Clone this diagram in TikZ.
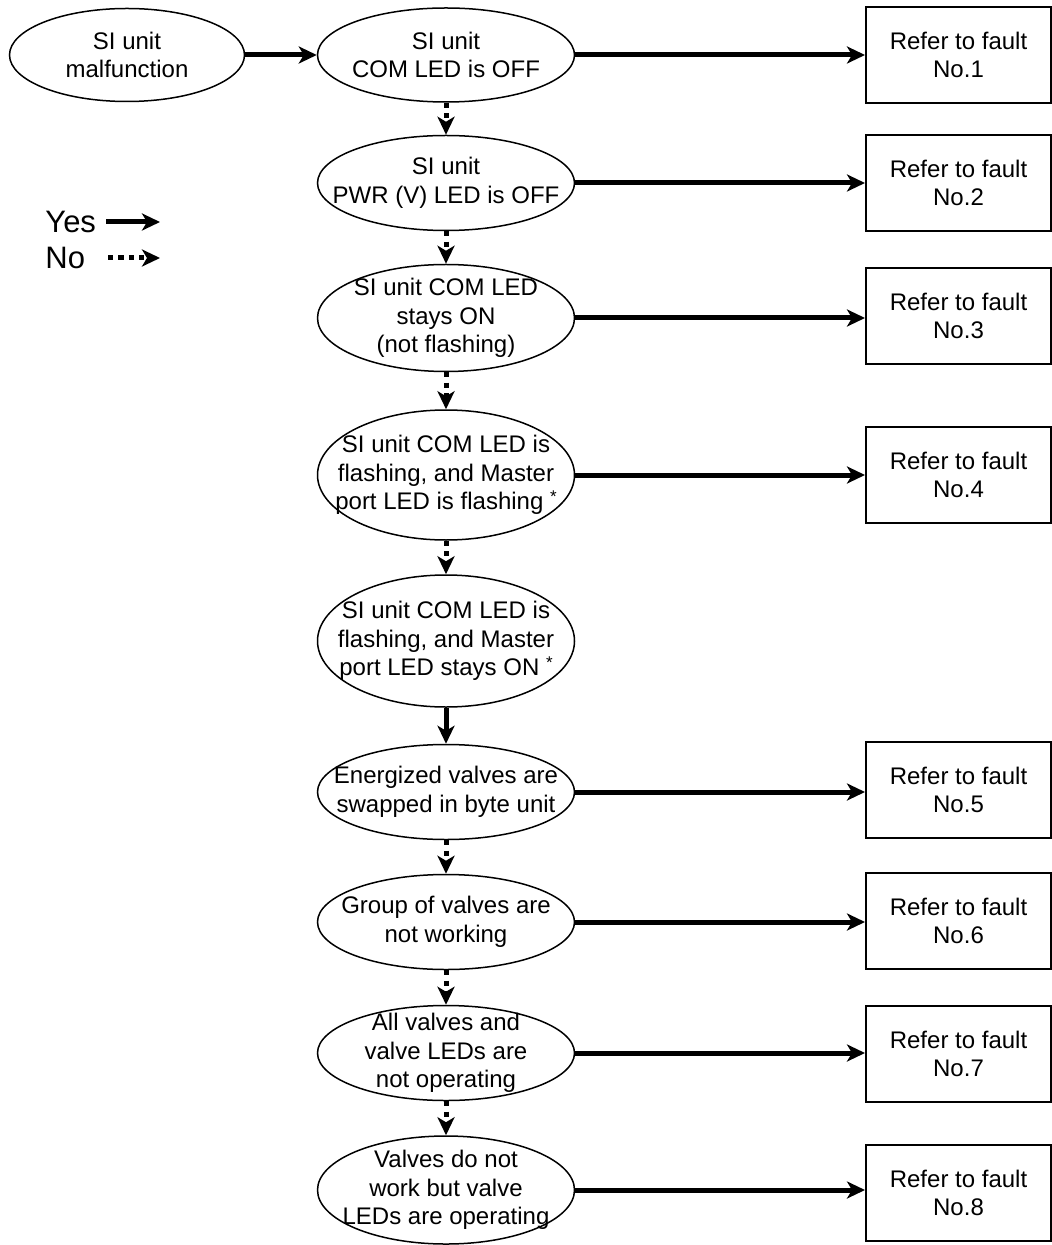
\documentclass[tikz,border=0pt]{standalone}
\usepackage{fontspec}
\setmainfont{Liberation Sans}
\usepackage{tikz}
\usetikzlibrary{shapes.geometric,arrows.meta}

\newcommand{\smallstar}{\raisebox{0.6ex}{\fontsize{8.5pt}{8.5pt}\selectfont *}}

\begin{document}
\begin{tikzpicture}[x=0.5pt,y=-0.5pt,
    check/.style={draw,line width=0.75pt,ellipse,inner sep=-40pt,align=center,
        minimum width=128.5pt,font=\fontsize{12pt}{14.3pt}\selectfont},
    faultbox/.style={draw,line width=1pt,rectangle,inner sep=0pt,align=center,
        minimum width=92.5pt,minimum height=48pt,font=\fontsize{12pt}{14.3pt}\selectfont},
    yesarrow/.style={line width=2.5pt,-{Stealth[length=9pt,width=8.5pt,inset=2.5pt]}},
    noarrow/.style={yesarrow,dash pattern=on 2.6pt off 2.6pt},
    legend/.style={font=\fontsize{15.5pt}{18pt}\selectfont,inner sep=0pt}]
            \useasboundingbox (0,0) rectangle (1052,1245);

            % start and checks
            \node[check,minimum width=117.5pt,minimum height=46.5pt] (start) at (127,55) {SI unit\\malfunction};
            \node[check,minimum height=47pt] (comoff) at (446,55) {SI unit\\COM LED is OFF};
            \node[check,minimum height=47.5pt] (pwroff) at (446,183) {SI unit\\PWR (V) LED is OFF};
            \node[check,minimum height=53.5pt] (comon) at (446,318) {SI unit COM LED\\stays ON\\(not flashing)};
            \node[check,minimum height=65pt] (mflash) at (446,475) {SI unit COM LED is\\flashing, and Master\\port LED is flashing \smallstar};
            \node[check,minimum height=66pt] (mon) at (446,641) {SI unit COM LED is\\flashing, and Master\\port LED stays ON \smallstar};
            \node[check,minimum height=47.5pt] (swap) at (446,792) {Energized valves are\\swapped in byte unit};
            \node[check,minimum height=47.5pt] (group) at (446,922) {Group of valves are\\not working};
            \node[check,minimum height=47.5pt] (allvalves) at (446,1053) {All valves and\\valve LEDs are\\not operating};
            \node[check,minimum height=54pt] (nowork) at (446,1190) {Valves do not\\work but valve\\LEDs are operating};

            % faults
            \node[faultbox] (fault1) at (958.5,55) {Refer to fault\\No.1};
            \node[faultbox] (fault2) at (958.5,183) {Refer to fault\\No.2};
            \node[faultbox] (fault3) at (958.5,316) {Refer to fault\\No.3};
            \node[faultbox] (fault4) at (958.5,475) {Refer to fault\\No.4};
            \node[faultbox] (fault5) at (958.5,790) {Refer to fault\\No.5};
            \node[faultbox] (fault6) at (958.5,921) {Refer to fault\\No.6};
            \node[faultbox] (fault7) at (958.5,1054) {Refer to fault\\No.7};
            \node[faultbox] (fault8) at (958.5,1193) {Refer to fault\\No.8};

            % yes
            \draw[yesarrow] (start) -- (comoff);
            \draw[yesarrow] (comoff.east) -- (fault1.west);
            \draw[yesarrow] (pwroff.east) -- (fault2.west);
            \draw[yesarrow] (comon.east) -- (comon.east -| fault3.west);
            \draw[yesarrow] (mflash.east) -- (fault4.west);
            \draw[yesarrow] (mon) -- (swap);
            \draw[yesarrow] (swap.east) -- (swap.east -| fault5.west);
            \draw[yesarrow] (group.east) -- (group.east -| fault6.west);
            \draw[yesarrow] (allvalves.east) -- (allvalves.east -| fault7.west);
            \draw[yesarrow] (nowork.east) -- (nowork.east -| fault8.west);

            % no
            \draw[noarrow] (comoff) -- (pwroff);
            \draw[noarrow] (pwroff) -- (comon);
            \draw[noarrow] (comon) -- (mflash);
            \draw[noarrow] (mflash) -- (mon);
            \draw[noarrow] (swap) -- (group);
            \draw[noarrow] (group) -- (allvalves);
            \draw[noarrow] (allvalves) -- (nowork);

            % legend
            \node[legend,anchor=west] (yes) at (45,222) {Yes};
            \node[legend,anchor=west] (no) at (45,258) {No};
            \coordinate (yesend) at (160,222);
            \coordinate (noend) at (160,258);
            \draw[yesarrow] (yes.east) ++(10,0) -- (yesend);
            \draw[noarrow] (108,258) -- (noend);
        \end{tikzpicture}
\end{document}
